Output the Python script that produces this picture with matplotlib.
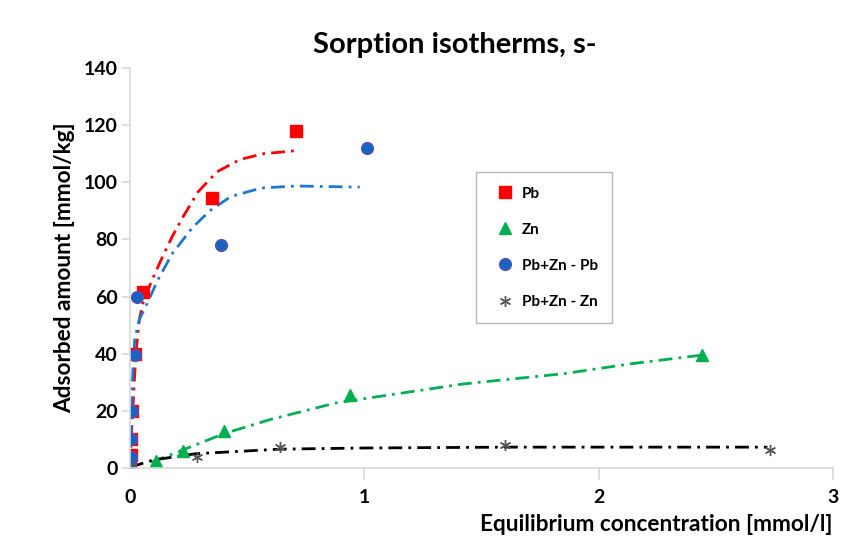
import matplotlib.pyplot as plt

plt.rcParams['font.family'] = ['Lato', 'DejaVu Sans']
plt.rcParams['font.weight'] = 'bold'

# measured points [mmol/l, mmol/kg]
pb_c = [0.002, 0.003, 0.005, 0.008, 0.02, 0.056, 0.35, 0.71]
pb_q = [2, 4.5, 10, 20, 40, 61.5, 94.5, 118]
zn_c = [0.11, 0.226, 0.40, 0.94, 2.44]
zn_q = [2.3, 6.0, 12.8, 25.5, 39.5]
pbzn_pb_c = [0.002, 0.003, 0.005, 0.007, 0.02, 0.03, 0.39, 1.01]
pbzn_pb_q = [1.5, 4, 10, 20, 39.5, 60, 78, 112]
pbzn_zn_c = [0.004, 0.286, 0.64, 1.60, 2.73]
pbzn_zn_q = [0.5, 4.0, 7.4, 8.0, 6.3]

# fitted isotherm curves
pb_fit_c = [0, 0.005, 0.015, 0.025, 0.04, 0.056, 0.09, 0.128, 0.18, 0.227, 0.29, 0.37, 0.47, 0.57, 0.70]
pb_fit_q = [0, 10, 25, 40, 52, 58, 65, 72, 81, 88, 96.6, 103.6, 108, 110, 111]
zn_fit_c = [0.09, 0.2, 0.4, 0.6, 0.88, 1.42, 1.85, 2.14, 2.44]
zn_fit_q = [2, 5.5, 12, 17, 22.8, 29.4, 33, 36.5, 39.5]
pbzn_pb_fit_c = [0, 0.005, 0.01, 0.02, 0.04, 0.064, 0.12, 0.18, 0.265, 0.34, 0.43, 0.56, 0.71, 0.98]
pbzn_pb_fit_q = [0, 15, 30, 45, 52, 56, 66, 75, 84, 90, 95, 98, 98.7, 98.3]
pbzn_zn_fit_c = [0, 0.1, 0.28, 0.64, 1.0, 1.6, 2.72]
pbzn_zn_fit_q = [0.3, 2.8, 5.0, 6.6, 7.0, 7.3, 7.3]

fig = plt.figure(figsize=(8.51, 5.45), dpi=100)
ax = fig.add_axes([130 / 851, 1 - 468 / 545, 703 / 851, 400 / 545])

dashdot = (0, (5, 2.2, 1, 2.2))
ax.plot(pb_fit_c, pb_fit_q, color='#FF0000', lw=2, ls=dashdot)
ax.plot(pbzn_pb_fit_c, pbzn_pb_fit_q, color='#1F78D0', lw=2, ls=dashdot)
ax.plot(zn_fit_c, zn_fit_q, color='#00B050', lw=2, ls=dashdot)
ax.plot(pbzn_zn_fit_c, pbzn_zn_fit_q, color='black', lw=2, ls=dashdot)

ax.plot(pb_c, pb_q, 's', color='#FF0000', ms=8.5, ls='none', label='Pb')
ax.plot(zn_c, zn_q, '^', color='#00B050', ms=8, ls='none', label='Zn')
ax.plot(pbzn_pb_c, pbzn_pb_q, 'o', color='#1565C0', mec='#5B4FB0', ms=8.5, ls='none', label='Pb+Zn - Pb')
ax.plot(pbzn_zn_c, pbzn_zn_q, marker=(6, 2, 0), color='#555555', ms=8, mew=1, ls='none', label='Pb+Zn - Zn')

ax.set_xlim(0, 3)
ax.set_ylim(0, 140)
ax.set_xticks([0, 1, 2, 3])
ax.set_yticks(range(0, 141, 20))
for s in ['top', 'right']:
    ax.spines[s].set_visible(False)
for s in ['left', 'bottom']:
    ax.spines[s].set_color('#D9D9D9')
    ax.spines[s].set_linewidth(1.2)
ax.tick_params(axis='x', direction='in', length=0, labelsize=14, pad=15, color='#D9D9D9')
ax.tick_params(axis='y', length=6, width=1.2, labelsize=14, pad=3, color='#D9D9D9')
for x in [1, 2, 3]:
    ax.plot([x, x], [0, -4], color='#D9D9D9', lw=1.2, clip_on=False)

ax.set_xlabel('Equilibrium concentration [mmol/l]', fontsize=16.3, fontweight='bold', loc='right', labelpad=6)
ax.set_ylabel('Adsorbed amount [mmol/kg]', fontsize=16.3, fontweight='bold', labelpad=6)
fig.text(455 / 851, 1 - 45 / 545, 'Sorption isotherms, s-', fontsize=21, fontweight='bold', ha='center', va='center')

leg = ax.legend(loc='upper left', bbox_to_anchor=(476 / 851, 1 - 172 / 545), bbox_transform=fig.transFigure,
                frameon=True, fancybox=False, edgecolor='#A6A6A6', fontsize=11, labelspacing=1.45,
                handletextpad=0.15, borderpad=0.95, handlelength=1.9, borderaxespad=0)
leg.get_frame().set_linewidth(1)
for t in leg.get_texts():
    t.set_fontweight('bold')

fig.savefig('out.png', dpi=100)
